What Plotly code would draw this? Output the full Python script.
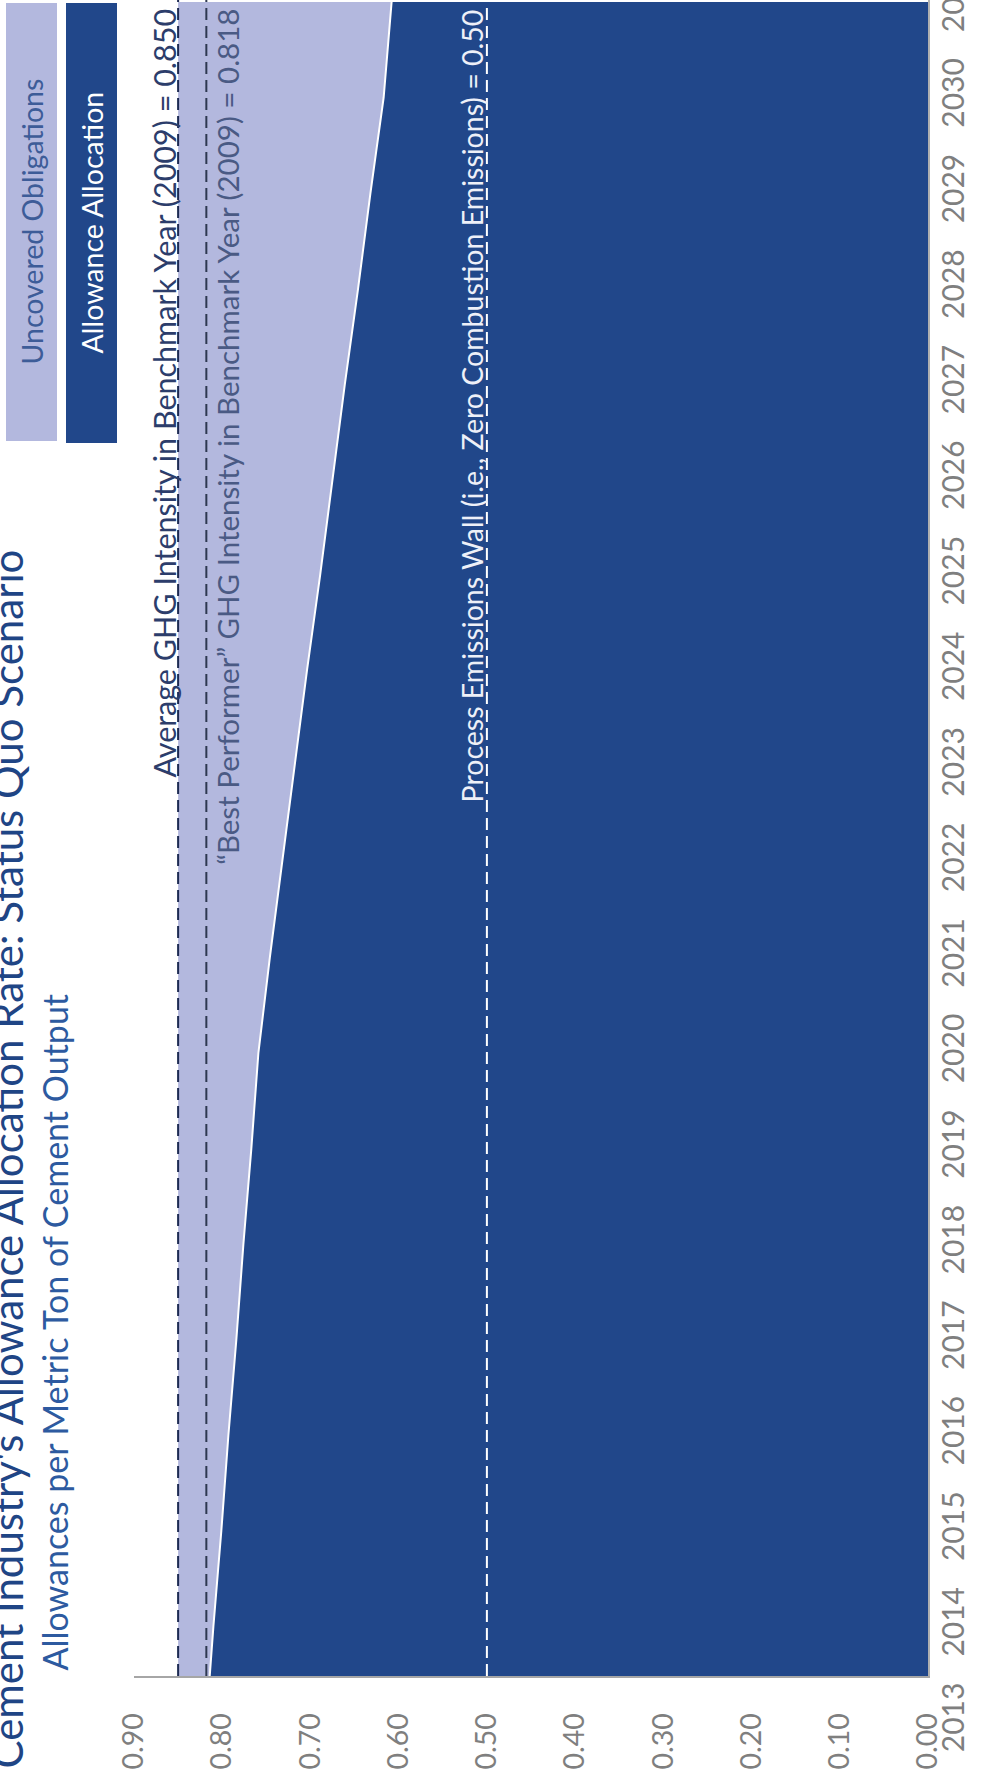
import plotly.graph_objects as go

# ---- data ----
years = [2013, 2014, 2015, 2016, 2017, 2018, 2019, 2020, 2021, 2022,
         2023, 2024, 2025, 2026, 2027, 2028, 2029, 2030, 2031]
allocation = [0.818, 0.810, 0.801, 0.793, 0.784, 0.776, 0.767, 0.759, 0.746, 0.732,
              0.718, 0.704, 0.689, 0.675, 0.661, 0.646, 0.632, 0.617, 0.608]
avg_intensity = 0.850      # Average GHG intensity in benchmark year (2009)
best_performer = 0.818     # "Best Performer" GHG intensity in benchmark year (2009)
process_wall = 0.50        # Process emissions wall
value_ticks = [0.0, 0.1, 0.2, 0.3, 0.4, 0.5, 0.6, 0.7, 0.8, 0.9]
year_ticks = years
uncovered = [avg_intensity - a for a in allocation]

title = "Cement Industry's Allowance Allocation Rate: Status Quo Scenario"
subtitle = "Allowances per Metric Ton of Cement Output"
series_names = ["Uncovered Obligations", "Allowance Allocation"]

# ---- layout geometry (page pixels) ----
W, H = 984, 1771
L, R, T = 134, 56, 0
PAPER_BOTTOM = 1744          # paper area extends a bit below the plot for the year labels
B = H - PAPER_BOTTOM
PW, PH = W - L - R, PAPER_BOTTOM - T
PLOT_BOTTOM = 1676           # y pixel of the value axis line
Y_LO, Y_HI = 2013.48, 2031.02  # visible year range of the plot area
dom0 = (PAPER_BOTTOM - PLOT_BOTTOM) / PH
per_year = (PLOT_BOTTOM - T) / (Y_HI - Y_LO)
Y2_LO = Y_LO - (PAPER_BOTTOM - PLOT_BOTTOM) / per_year


def px(X):
    return (X - L) / PW


def py(Y):
    return (PAPER_BOTTOM - Y) / PH


DARK = "#21478a"
LIGHT = "#b3b8de"
FONT = "Lato"

fig = go.Figure()
fig.add_trace(go.Scatter(
    x=allocation, y=years, mode="lines", name=series_names[1],
    stackgroup="one", orientation="h",
    line=dict(color="rgba(0,0,0,0)", width=0), fillcolor=DARK,
    showlegend=False, hoverinfo="skip"))
fig.add_trace(go.Scatter(
    x=uncovered, y=years, mode="lines", name=series_names[0],
    stackgroup="one", orientation="h",
    line=dict(color="rgba(0,0,0,0)", width=0), fillcolor=LIGHT,
    showlegend=False, hoverinfo="skip"))
fig.add_trace(go.Scatter(
    x=allocation, y=years, mode="lines",
    line=dict(color="white", width=2), showlegend=False, hoverinfo="skip"))
# invisible trace that activates the year-label axis
fig.add_trace(go.Scatter(
    x=allocation[:1], y=years[:1], yaxis="y2", mode="markers",
    marker=dict(opacity=0, size=1), showlegend=False, hoverinfo="skip"))

dash = "12px,6px"
shapes = [
    dict(type="line", xref="x", yref="y domain", x0=avg_intensity, x1=avg_intensity,
         y0=0, y1=1, line=dict(color="#1c2a52", width=2, dash=dash)),
    dict(type="line", xref="x", yref="y domain", x0=best_performer, x1=best_performer,
         y0=0, y1=1, line=dict(color="#2e3850", width=2, dash=dash)),
    dict(type="line", xref="x", yref="y domain", x0=process_wall, x1=process_wall,
         y0=0, y1=1, line=dict(color="white", width=2, dash=dash)),
    # legend boxes
    dict(type="rect", xref="paper", yref="paper", x0=px(6), x1=px(57), y0=py(441), y1=py(3),
         fillcolor=LIGHT, line=dict(width=0)),
    dict(type="rect", xref="paper", yref="paper", x0=px(66), x1=px(117), y0=py(443), y1=py(3),
         fillcolor=DARK, line=dict(width=0)),
]

annotations = [
    dict(text=title, xref="paper", yref="paper", x=px(6), y=py(1771), xanchor="center",
         yanchor="bottom", textangle=-90, showarrow=False,
         font=dict(family=FONT, size=42, color="#1f4585")),
    dict(text=subtitle, xref="paper", yref="paper", x=px(54), y=py(1673), xanchor="center",
         yanchor="bottom", textangle=-90, showarrow=False,
         font=dict(family=FONT, size=34, color="#2d5aa0")),
    dict(text=series_names[0], xref="paper", yref="paper", x=px(31.5), y=py(222),
         xanchor="center", yanchor="middle", textangle=-90, showarrow=False,
         font=dict(family=FONT, size=28.5, color="#3d5c98")),
    dict(text=series_names[1], xref="paper", yref="paper", x=px(91.5), y=py(223),
         xanchor="center", yanchor="middle", textangle=-90, showarrow=False,
         font=dict(family=FONT, size=28.5, color="#ffffff")),
    dict(text="Average GHG Intensity in Benchmark Year (2009) = 0.850",
         xref="x", yref="y domain", x=avg_intensity, y=1, xanchor="right", yanchor="top",
         xshift=5, yshift=-7, textangle=-90, showarrow=False,
         font=dict(family=FONT, size=30.5, color="#2c3d6b")),
    dict(text="\u201cBest Performer\u201d GHG Intensity in Benchmark Year (2009) = 0.818",
         xref="x", yref="y domain", x=best_performer, y=1, xanchor="left", yanchor="top",
         xshift=1, yshift=-7, textangle=-90, showarrow=False,
         font=dict(family=FONT, size=29.5, color="#4a5a84")),
    dict(text="Process Emissions Wall (i.e., Zero Combustion Emissions) = 0.50",
         xref="x", yref="y domain", x=process_wall, y=1, xanchor="right", yanchor="top",
         xshift=4, yshift=-7, textangle=-90, showarrow=False,
         font=dict(family=FONT, size=28.5, color="#eef0f8")),
]

fig.update_layout(
    width=W, height=H, margin=dict(l=L, r=R, t=T, b=B, pad=0, autoexpand=False),
    paper_bgcolor="white", plot_bgcolor="rgba(0,0,0,0)",
    shapes=shapes, annotations=annotations, showlegend=False,
    xaxis=dict(range=[0.9, 0.0], tickvals=value_ticks, tickformat=".2f",
               tickangle=-90, showgrid=False, zeroline=False, anchor="y",
               showline=True, linecolor="#a6a6a6", linewidth=1.5,
               ticks="", ticklabelstandoff=24, automargin=False,
               tickfont=dict(family=FONT, size=28.5, color="#7f7f7f")),
    yaxis=dict(range=[Y_LO, Y_HI], domain=[dom0, 1], side="right", anchor="x",
               showticklabels=False, showgrid=False, zeroline=False, automargin=False,
               showline=True, linecolor="#b0b0b0", linewidth=1.5, ticks=""),
    yaxis2=dict(range=[Y2_LO, Y_HI], domain=[0, 1], side="right", anchor="free",
                position=1, tickvals=year_ticks, tickangle=-90,
                showgrid=False, zeroline=False, showline=False, ticks="",
                ticklabelstandoff=5, ticklabeloverflow="allow", automargin=False,
                tickfont=dict(family=FONT, size=30, color="#7f7f7f")),
)

fig.write_html("out.html")
